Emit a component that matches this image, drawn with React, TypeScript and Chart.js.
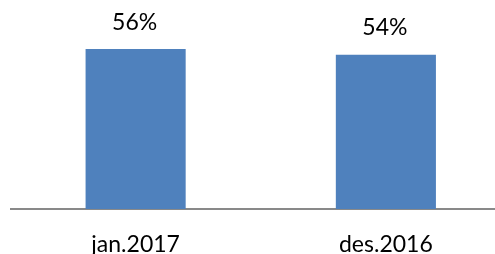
import React, { useEffect, useRef } from "react";
import { Chart, registerables } from "chart.js";

Chart.register(...registerables);

const categories = ["jan.2017", "des.2016"];
const values = [56, 54];
const valueLabels = ["56%", "54%"];

const FONT = "Lato, 'Noto Sans', sans-serif";

const valueLabelPlugin = {
  id: "valueLabels",
  afterDatasetsDraw(chart: any) {
    const ctx = chart.ctx;
    const meta = chart.getDatasetMeta(0);
    ctx.save();
    ctx.font = `23px ${FONT}`;
    ctx.fillStyle = "#000000";
    ctx.textAlign = "center";
    ctx.textBaseline = "alphabetic";
    meta.data.forEach((bar: any, i: number) => {
      ctx.fillText(valueLabels[i], bar.x - 1, bar.y - 19.5);
    });
    ctx.restore();
  },
};

export default function App() {
  const ref = useRef<HTMLCanvasElement>(null);
  useEffect(() => {
    document.body.style.margin = "0";
    const chart = new Chart(ref.current!, {
      type: "bar",
      data: {
        labels: categories,
        datasets: [
          {
            data: values,
            backgroundColor: "#4F81BD",
            borderWidth: 0,
            barPercentage: 1,
            categoryPercentage: 0.4,
          },
        ],
      },
      options: {
        animation: false,
        responsive: false,
        layout: { padding: { top: 9, left: 10.5, right: 0, bottom: 0 } },
        plugins: { legend: { display: false }, tooltip: { enabled: false } },
        scales: {
          x: {
            grid: { display: true, drawOnChartArea: false, drawTicks: false },
            border: { display: true, color: "#898989", width: 2 },
            ticks: {
              padding: 22,
              color: "#000000",
              font: { family: FONT, size: 23 },
              maxRotation: 0,
            },
            afterFit: (scale: any) => {
              scale.height = 45;
            },
          },
          y: {
            display: false,
            min: 0,
            max: 70,
          },
        },
      },
      plugins: [valueLabelPlugin],
    });
    return () => chart.destroy();
  }, []);
  return (
    <div style={{ width: 495, height: 254, overflow: "hidden", background: "#fff" }}>
      <canvas ref={ref} width={511} height={254} style={{ display: "block" }} />
    </div>
  );
}
